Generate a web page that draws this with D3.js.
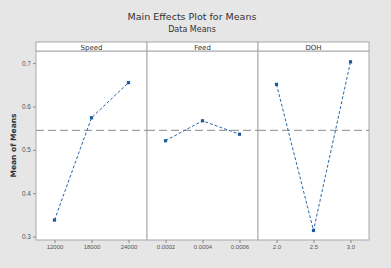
<!DOCTYPE html>
<html>
<head>
<meta charset="utf-8">
<script src="https://cdn.jsdelivr.net/npm/d3@7"></script>
<style>
  body { margin: 0; background: #e6e6e6; }
  svg { display: block; font-family: 'DejaVu Sans', sans-serif; }
</style>
</head>
<body>
<div id="chart"></div>
<script>
const factors = ['Speed', 'Feed', 'DOH'];
const levels = {
  Speed: ['12000', '18000', '24000'],
  Feed: ['0.0002', '0.0004', '0.0006'],
  DOH: ['2.0', '2.5', '3.0'],
};
const means = {
  Speed: [0.338, 0.574, 0.655],
  Feed: [0.521, 0.567, 0.536],
  DOH: [0.651, 0.314, 0.703],
};
const grandMean = 0.545;
const yTicks = [0.3, 0.4, 0.5, 0.6, 0.7];

const width = 391;
const height = 268;
const margin = { top: 42, right: 22, bottom: 28, left: 36 };
const stripH = 9;

const svg = d3
  .select('#chart')
  .append('svg')
  .attr('width', width)
  .attr('height', height);

svg
  .append('rect')
  .attr('width', width)
  .attr('height', height)
  .attr('fill', '#e6e6e6');

svg
  .append('text')
  .attr('x', 192)
  .attr('y', 20)
  .attr('text-anchor', 'middle')
  .style('font-size', '9.5px')
  .attr('fill', '#333')
  .text('Main Effects Plot for Means');

svg
  .append('text')
  .attr('x', 192)
  .attr('y', 32)
  .attr('text-anchor', 'middle')
  .style('font-size', '8px')
  .attr('fill', '#333')
  .text('Data Means');

const plotTop = margin.top + stripH;
const plotBottom = height - margin.bottom;

const panelScale = d3
  .scaleBand()
  .domain(factors)
  .range([margin.left, width - margin.right]);

const yScale = d3.scaleLinear().domain([0.292, 0.728]).range([plotBottom, plotTop]);

// y axis
const yAxis = svg
  .append('g')
  .attr('transform', `translate(${margin.left},0)`)
  .call(d3.axisLeft(yScale).tickValues(yTicks).tickSize(3).tickFormat(d3.format('.1f')));
yAxis.select('.domain').remove();
yAxis.selectAll('line').attr('stroke', '#888');
yAxis.selectAll('text').style('font-size', '6.5px').attr('fill', '#555').attr('x', -5);

svg
  .append('text')
  .attr('transform', `translate(16,${(plotTop + plotBottom) / 2}) rotate(-90)`)
  .attr('text-anchor', 'middle')
  .style('font-size', '7.5px')
  .style('font-weight', 700)
  .attr('fill', '#333')
  .text('Mean of Means');

factors.forEach((f) => {
  const x0 = panelScale(f);
  const w = panelScale.bandwidth();
  const g = svg.append('g');

  const xScale = d3
    .scalePoint()
    .domain(levels[f])
    .range([x0 + 18.5, x0 + w - 18.5]);

  g.append('rect')
    .attr('x', x0)
    .attr('y', plotTop)
    .attr('width', w)
    .attr('height', plotBottom - plotTop)
    .attr('fill', '#fff')
    .attr('stroke', '#a8a8a8');

  // strip
  g.append('rect')
    .attr('x', x0)
    .attr('y', margin.top)
    .attr('width', w)
    .attr('height', stripH)
    .attr('fill', '#fff')
    .attr('stroke', '#a8a8a8');

  g.append('text')
    .attr('x', x0 + w / 2)
    .attr('y', margin.top + 7.5)
    .attr('text-anchor', 'middle')
    .style('font-size', '7px')
    .attr('fill', '#333')
    .text(f);

  const xAxis = g
    .append('g')
    .attr('transform', `translate(0,${plotBottom})`)
    .call(d3.axisBottom(xScale).tickSize(3));
  xAxis.select('.domain').remove();
  xAxis.selectAll('line').attr('stroke', '#888');
  xAxis.selectAll('text').style('font-size', '6px').attr('fill', '#555').attr('y', 5);

  // grand mean line
  g.append('line')
    .attr('x1', x0)
    .attr('x2', x0 + w)
    .attr('y1', yScale(grandMean))
    .attr('y2', yScale(grandMean))
    .attr('stroke', '#8a8a8a')
    .attr('stroke-width', 1)
    .attr('stroke-dasharray', '8,4');

  const pts = levels[f].map((l, i) => [xScale(l), yScale(means[f][i])]);

  g.append('path')
    .attr('d', d3.line()(pts))
    .attr('fill', 'none')
    .attr('stroke', '#2a64a8')
    .attr('stroke-width', 1)
    .attr('stroke-dasharray', '3,2');

  g.selectAll('.pt')
    .data(pts)
    .join('rect')
    .attr('x', (d) => d[0] - 1.6)
    .attr('y', (d) => d[1] - 1.6)
    .attr('width', 3.2)
    .attr('height', 3.2)
    .attr('fill', '#1d5a9c');
});
</script>
</body>
</html>
